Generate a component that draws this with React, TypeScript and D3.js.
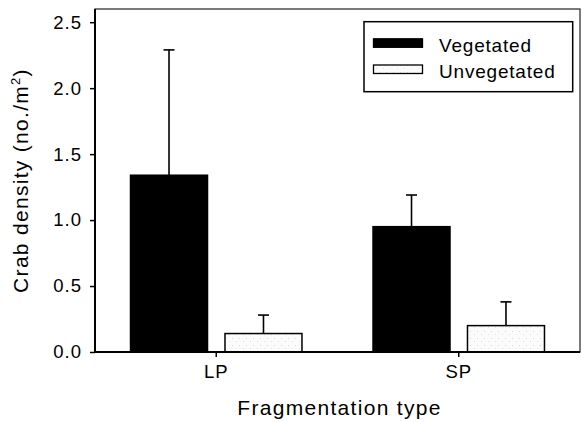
import { useEffect, useRef } from "react";
import * as d3 from "d3";

const categories = ["LP", "SP"];
const seriesNames = ["Vegetated", "Unvegetated"];
const vegetated = [1.34, 0.95];
const vegetatedErr = [0.95, 0.24];
const unvegetated = [0.14, 0.2];
const unvegetatedErr = [0.14, 0.18];
const yTicks = [0, 0.5, 1.0, 1.5, 2.0, 2.5];

const App = () => {
  const ref = useRef<SVGSVGElement>(null);

  useEffect(() => {
    const width = 582;
    const height = 422;
    const margin = { top: 9, right: 2, bottom: 70, left: 95 };
    const font = "'Liberation Sans', Arial, sans-serif";

    const svg = d3.select(ref.current).attr("width", width).attr("height", height);
    svg.selectAll("*").remove();

    // light stipple for the unvegetated bars
    const pat = svg
      .append("defs")
      .append("pattern")
      .attr("id", "stipple")
      .attr("width", 7)
      .attr("height", 7)
      .attr("patternUnits", "userSpaceOnUse");
    pat.append("rect").attr("width", 7).attr("height", 7).attr("fill", "#fbfbfb");
    pat.append("rect").attr("x", 1).attr("y", 2).attr("width", 1).attr("height", 1).attr("fill", "#d8d8d8");
    pat.append("rect").attr("x", 5).attr("y", 5).attr("width", 1).attr("height", 1).attr("fill", "#e2e2e2");

    const x = d3
      .scaleBand()
      .domain(categories)
      .range([margin.left, width - margin.right])
      .padding(0);

    const x1 = d3
      .scaleBand()
      .domain(seriesNames)
      .range([0, x.bandwidth()])
      .paddingInner(0.185)
      .paddingOuter(0.376);

    const y = d3
      .scaleLinear()
      .domain([0, 2.6])
      .range([height - margin.bottom, margin.top]);

    const color = d3.scaleOrdinal().domain(seriesNames).range(["#000000", "url(#stipple)"]);

    const rows = categories.flatMap((c, i) => [
      { cat: c, s: seriesNames[0], v: vegetated[i], e: vegetatedErr[i] },
      { cat: c, s: seriesNames[1], v: unvegetated[i], e: unvegetatedErr[i] },
    ]);

    // frame (top / right)
    svg
      .append("rect")
      .attr("x", margin.left)
      .attr("y", margin.top)
      .attr("width", width - margin.right - margin.left)
      .attr("height", y(0) - margin.top)
      .attr("fill", "none")
      .attr("stroke", "#222")
      .attr("stroke-width", 1.2);

    // error bars (drawn first so the bar covers the stem base)
    const err = svg.append("g").attr("stroke", "#000").attr("stroke-width", 1.6);
    rows.forEach((d) => {
      const cx = (x(d.cat) as number) + (x1(d.s) as number) + x1.bandwidth() / 2;
      err
        .append("line")
        .attr("x1", cx)
        .attr("x2", cx)
        .attr("y1", y(d.v))
        .attr("y2", y(d.v + d.e));
      err
        .append("line")
        .attr("x1", cx - 5.5)
        .attr("x2", cx + 5.5)
        .attr("y1", y(d.v + d.e))
        .attr("y2", y(d.v + d.e));
    });

    svg
      .append("g")
      .selectAll("rect")
      .data(rows)
      .enter()
      .append("rect")
      .attr("x", (d) => (x(d.cat) as number) + (x1(d.s) as number))
      .attr("y", (d) => y(d.v))
      .attr("width", x1.bandwidth())
      .attr("height", (d) => y(0) - y(d.v))
      .attr("fill", (d) => color(d.s) as string)
      .attr("stroke", "#000")
      .attr("stroke-width", 1.5);

    // y axis
    const yAxis = svg
      .append("g")
      .attr("transform", `translate(${margin.left},0)`)
      .call(
        d3
          .axisLeft(y)
          .tickValues(yTicks)
          .tickFormat(d3.format(".1f"))
          .tickSize(5)
          .tickPadding(8)
      );
    yAxis.select(".domain").attr("stroke-width", 2).attr("d", `M0,${margin.top}V${y(0)}`);
    yAxis.selectAll(".tick line").attr("stroke-width", 1.5);
    yAxis
      .selectAll("text")
      .style("font-family", font)
      .style("font-size", "18.5px")
      .style("letter-spacing", "1px")
      .attr("fill", "#000");

    // x axis
    const xAxis = svg
      .append("g")
      .attr("transform", `translate(0,${y(0)})`)
      .call(d3.axisBottom(x).tickSize(5).tickPadding(8));
    xAxis
      .select(".domain")
      .attr("stroke-width", 2)
      .attr("d", `M${margin.left},0H${width - margin.right}`);
    xAxis.selectAll(".tick line").attr("stroke-width", 1.5);
    xAxis
      .selectAll("text")
      .style("font-family", font)
      .style("font-size", "18.5px")
      .style("letter-spacing", "1px")
      .attr("fill", "#000");

    // axis titles
    svg
      .append("text")
      .attr("x", (margin.left + width - margin.right) / 2 + 2)
      .attr("y", 415)
      .attr("text-anchor", "middle")
      .style("font-family", font)
      .style("font-size", "21px")
      .style("letter-spacing", "1.3px")
      .text("Fragmentation type");

    const yl = svg
      .append("text")
      .attr("transform", `translate(28,${(margin.top + y(0)) / 2}) rotate(-90)`)
      .attr("text-anchor", "middle")
      .style("font-family", font)
      .style("font-size", "21px")
      .style("letter-spacing", "1.3px");
    yl.append("tspan").text("Crab density (no./m");
    yl.append("tspan").attr("dy", -8).style("font-size", "13px").text("2");
    yl.append("tspan").attr("dy", 8).text(")");

    // legend
    const lg = svg.append("g");
    lg.append("rect")
      .attr("x", 364)
      .attr("y", 21.7)
      .attr("width", 208.7)
      .attr("height", 70)
      .attr("fill", "#fff")
      .attr("stroke", "#000")
      .attr("stroke-width", 1.5);
    const legendRows = [
      { s: seriesNames[0], top: 38.8, base: 52.3 },
      { s: seriesNames[1], top: 65, base: 78.3 },
    ];
    legendRows.forEach((r) => {
      lg.append("rect")
        .attr("x", 373.5)
        .attr("y", r.top)
        .attr("width", 49)
        .attr("height", 8.5)
        .attr("fill", color(r.s) as string)
        .attr("stroke", "#000")
        .attr("stroke-width", 1.3);
      lg.append("text")
        .attr("x", 439)
        .attr("y", r.base)
        .style("font-family", font)
        .style("font-size", "19px")
        .style("letter-spacing", "0.8px")
        .text(r.s);
    });
  }, []);

  return <svg ref={ref} style={{ position: "absolute", left: 0, top: 0, background: "#fff" }}></svg>;
};

export default App;
